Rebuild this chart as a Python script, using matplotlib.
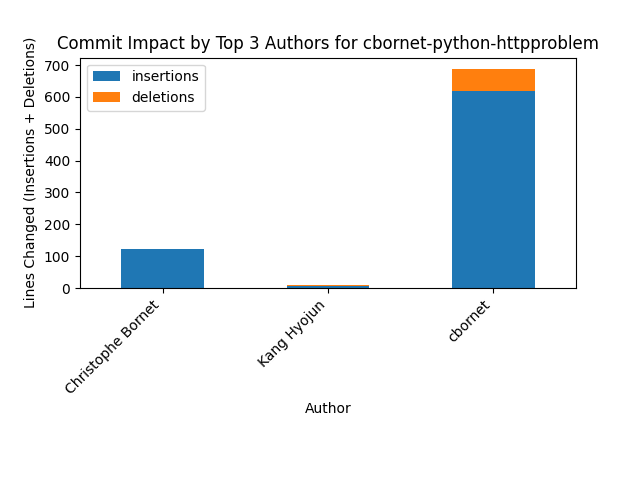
import matplotlib
matplotlib.use("Agg")
import matplotlib.pyplot as plt
import pandas as pd

authors = ["Christophe Bornet", "Kang Hyojun", "cbornet"]
insertions = [122, 7, 619]
deletions = [1, 3, 70]

df = pd.DataFrame({"insertions": insertions, "deletions": deletions}, index=authors)
fig, ax = plt.subplots(figsize=(6.4, 4.8), dpi=100)
df.plot(kind="bar", stacked=True, ax=ax)
ax.set_title("Commit Impact by Top 3 Authors for cbornet-python-httpproblem")
ax.set_xlabel("Author")
ax.set_ylabel("Lines Changed (Insertions + Deletions)")
plt.setp(ax.get_xticklabels(), rotation=45, ha="right")
fig.subplots_adjust(bottom=0.4)
fig.savefig("out.png")
